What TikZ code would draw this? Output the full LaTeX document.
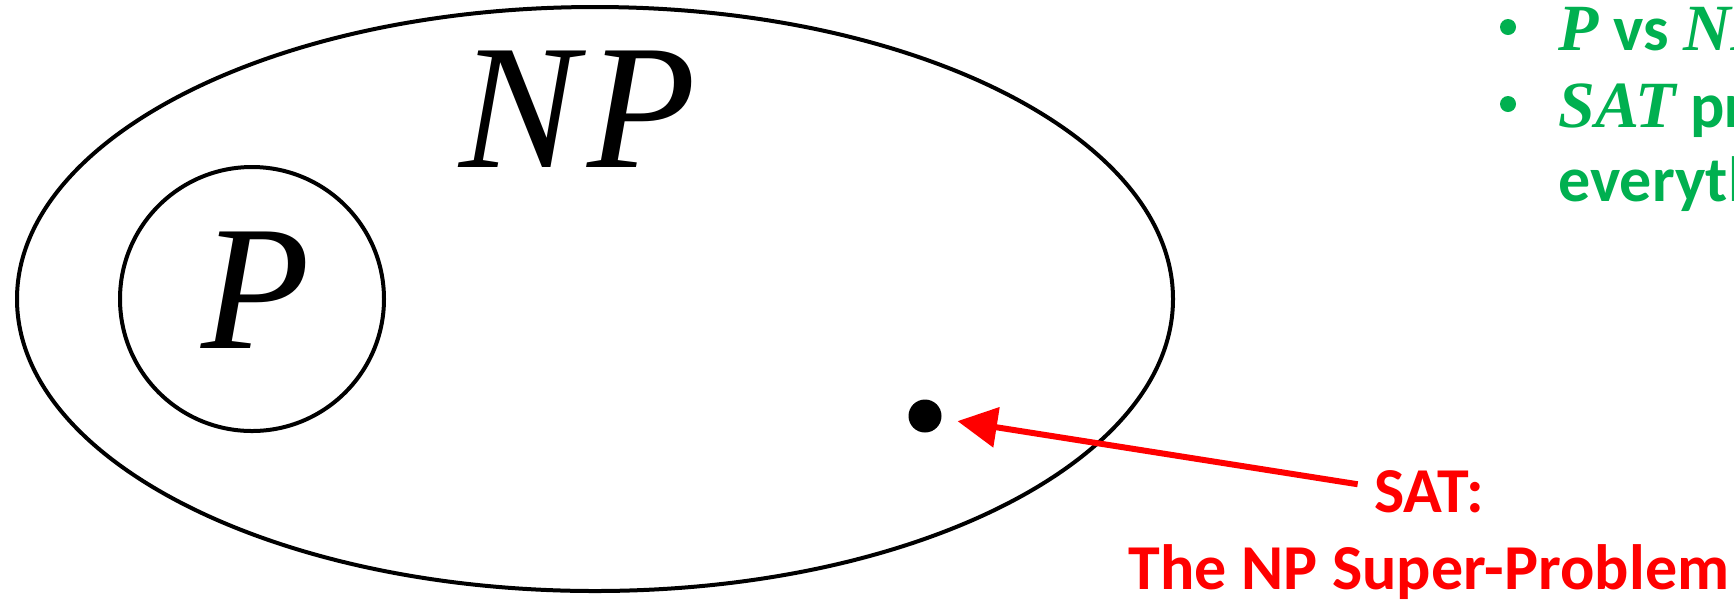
\documentclass[tikz,border=0pt]{standalone}
\usepackage{fontspec}
\usetikzlibrary{arrows.meta,shapes.geometric}
\newfontfamily\calibri{Carlito}
\newfontfamily\serifmath{Liberation Serif}
\newcommand\mymbi[1]{{\serifmath\bfseries\itshape\fontsize{33}{38}\selectfont #1}}
\definecolor{pgreen}{RGB}{0,176,80}
\definecolor{pred}{RGB}{255,0,0}
\tikzset{
  setline/.style={draw=black, line width=2pt, inner sep=0pt},
  biglabel/.style={font=\serifmath\itshape\fontsize{89}{90}\selectfont, inner sep=0pt, anchor=base},
  gtext/.style={text=pgreen, font=\calibri\bfseries\fontsize{32}{38}\selectfont, inner sep=0pt, anchor=base west},
  gbullet/.style={circle, fill=pgreen, minimum size=8pt, inner sep=0pt},
  rtext/.style={text=pred, font=\calibri\bfseries\fontsize{32}{38}\selectfont, inner sep=0pt, anchor=base},
  redarrow/.style={draw=pred, line width=3pt, -{Triangle[length=19.75pt,width=19.75pt]}}
}
\begin{document}
\begin{tikzpicture}[x=0.5pt,y=-0.5pt]
\useasboundingbox (0,0) rectangle (1734,602);
\clip (0,0) rectangle (1734,602);
% NP set
\node[setline, ellipse, minimum width=578pt, minimum height=292pt] (npset) at (595,299) {};
\node[biglabel] (nplabel) at (578,167) {N\kern5pt P};
% P set
\node[setline, circle, minimum size=132pt] (pset) at (252,299) {};
\node[biglabel] (plabel) at (256,348) {P};
% SAT dot
\node[circle, fill=black, minimum size=16.5pt, inner sep=0pt] (dot) at (925,416) {};
% red label
\node[rtext] (satlbl) at (1429,512) {SAT:};
\node[rtext] (superlbl) at (1429,589) {The NP Super-Problem};
\draw[redarrow, shorten >=8pt] ([shift={(-8pt,3.5pt)}]satlbl.west) -- (dot);
% green bullets
\node[gbullet] (b1) at (1508,27) {};
\node[gbullet] (b2) at (1508,104) {};
\node[gtext] (g1) at (1558,50) {\mymbi{P} vs \mymbi{NP}};
\node[gtext] (g2) at (1558,127) {\mymbi{SAT} problem};
\node[gtext] (g3) at (1558,201) {everything};
\end{tikzpicture}
\end{document}
